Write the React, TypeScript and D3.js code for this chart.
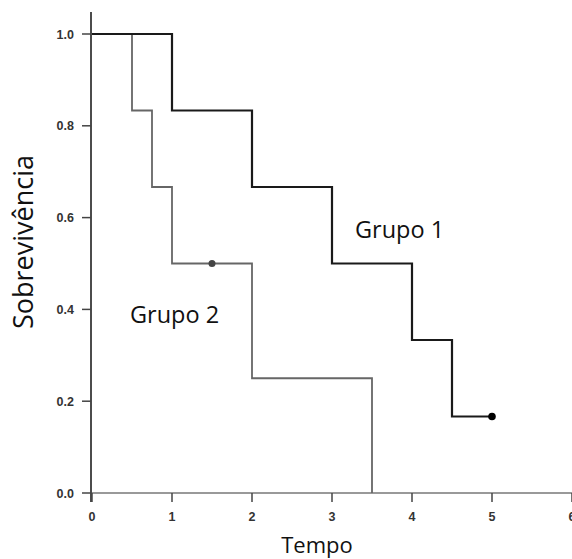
import React from "react";
import * as d3 from "d3";

const xTicks = [0, 1, 2, 3, 4, 5, 6];
const yTicks = [0, 0.2, 0.4, 0.6, 0.8, 1.0];
const group1Times = [0, 1, 2, 3, 4, 4.5, 5];
const group1Surv = [1.0, 0.8333, 0.6667, 0.5, 0.3333, 0.1667, 0.1667];
const group1Censor = [{ t: 5, s: 0.1667 }];
const group2Times = [0, 0.5, 0.75, 1, 2, 3.5];
const group2Surv = [1.0, 0.8333, 0.6667, 0.5, 0.25, 0.0];
const group2Censor = [{ t: 1.5, s: 0.5 }];

export default function App() {
  const W = 572, H = 559;
  const x = d3.scaleLinear().domain([0, 6]).range([92, 572]);
  const y = d3.scaleLinear().domain([0, 1]).range([493, 34]);
  const step = d3.line<[number, number]>().x(d => x(d[0])).y(d => y(d[1])).curve(d3.curveStepAfter);
  const g1 = group1Times.map((t, i) => [t, group1Surv[i]] as [number, number]);
  const g2 = group2Times.map((t, i) => [t, group2Surv[i]] as [number, number]);
  const tickFont = "Liberation Sans, Arial, sans-serif";
  const labelFont = "Open Sans, sans-serif";
  return (
    <svg width={W} height={H} style={{ position: "absolute", left: 0, top: 0, background: "#fff" }}>
      <line x1={x(0)} x2={572} y1={y(0)} y2={y(0)} stroke="#777" strokeWidth={1.5} />
      <line x1={91} x2={91} y1={12} y2={502} stroke="#111" strokeWidth={1.5} />
      {yTicks.map(t => (
        <g key={"y" + t}>
          <line x1={82} x2={91} y1={y(t)} y2={y(t)} stroke="#444" strokeWidth={1.5} />
          <text x={74} y={y(t)} dy="0.36em" textAnchor="end" fontFamily={tickFont} fontSize={12.5} fontWeight="bold" fill="#333">{t.toFixed(1)}</text>
        </g>
      ))}
      {xTicks.map(t => (
        <g key={"x" + t}>
          <line x1={x(t)} x2={x(t)} y1={y(0)} y2={502} stroke="#444" strokeWidth={1.5} />
          <text x={x(t)} y={521} textAnchor="middle" fontFamily={tickFont} fontSize={12.5} fontWeight="bold" fill="#333">{t}</text>
        </g>
      ))}
      <path d={step(g2) || ""} fill="none" stroke="#666" strokeWidth={1.8} />
      <path d={step(g1) || ""} fill="none" stroke="#1a1a1a" strokeWidth={2.2} />
      {group2Censor.map((c, i) => (
        <circle key={"c2" + i} cx={x(c.t)} cy={y(c.s)} r={3.5} fill="#444" />
      ))}
      {group1Censor.map((c, i) => (
        <circle key={"c1" + i} cx={x(c.t)} cy={y(c.s)} r={3.8} fill="#000" />
      ))}
      <text x={355} y={238} fontFamily={labelFont} fontSize={23.5} fill="#111">Grupo 1</text>
      <text x={130} y={323} fontFamily={labelFont} fontSize={23.5} fill="#111">Grupo 2</text>
      <text x={317} y={553} textAnchor="middle" fontFamily={labelFont} fontSize={22} fill="#111">Tempo</text>
      <text transform={`translate(33,242) rotate(-90)`} textAnchor="middle" fontFamily={labelFont} fontSize={27} fill="#111">Sobrevivência</text>
    </svg>
  );
}
